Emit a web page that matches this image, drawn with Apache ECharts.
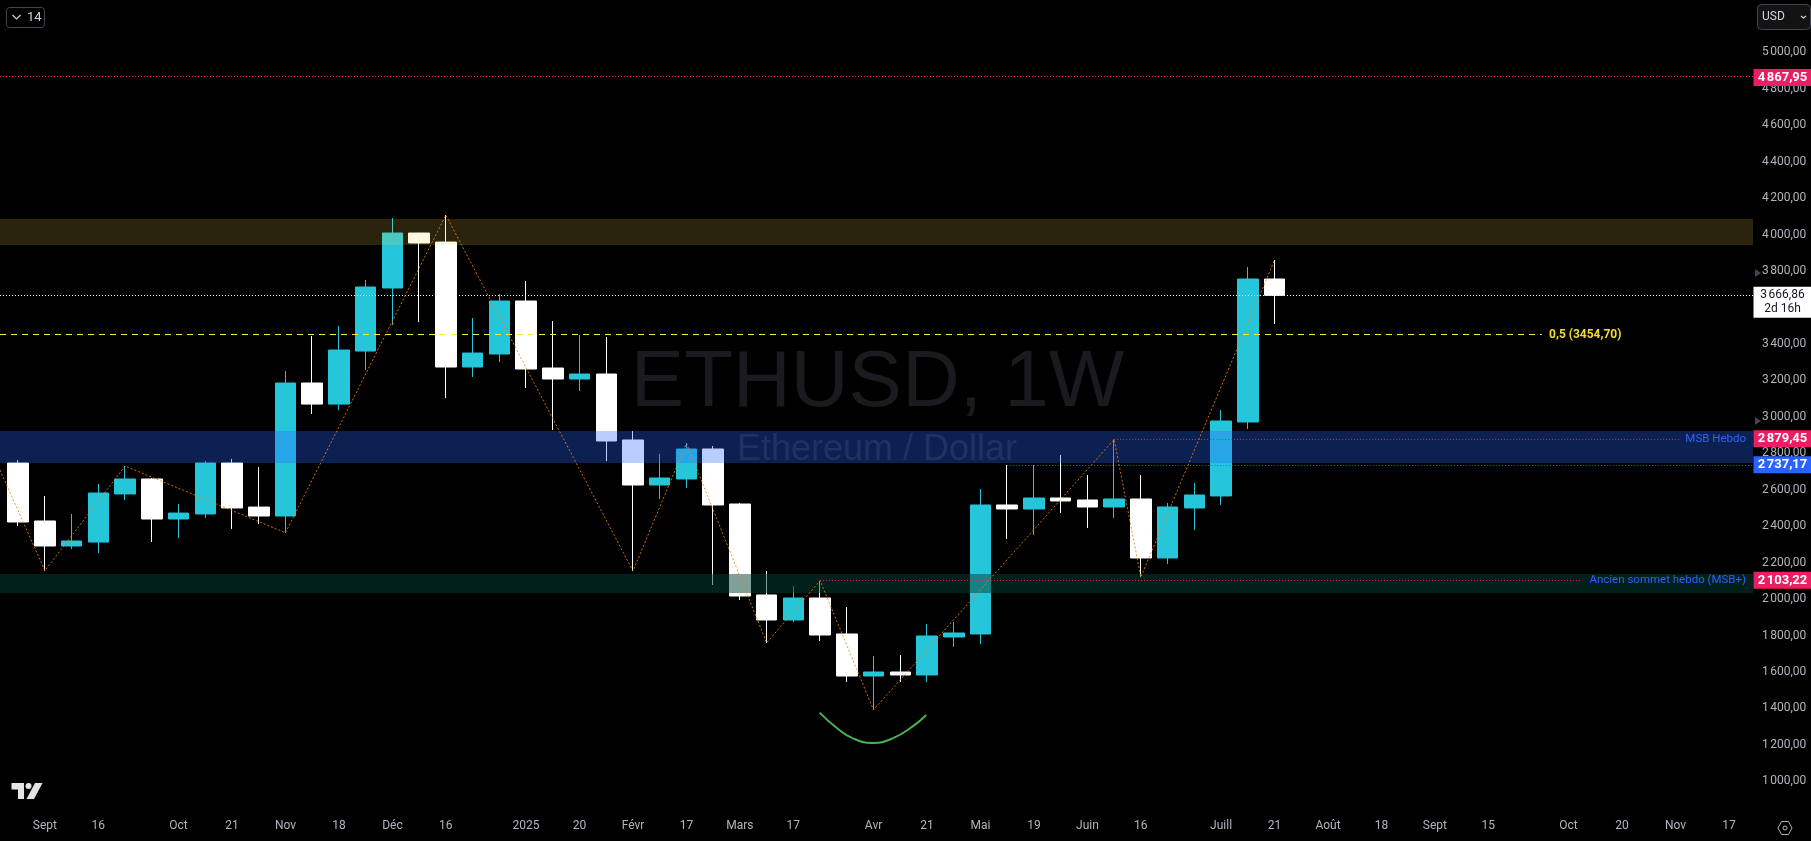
<!DOCTYPE html>
<html><head><meta charset="utf-8">
<style>html,body{margin:0;padding:0;background:#000}#c{width:1811px;height:841px}</style>
<script src="https://cdn.jsdelivr.net/npm/echarts@6/dist/echarts.min.js"></script>
</head><body><div id="c"></div>
<script>
// weekly candles, in chart order
const opens  = [2746.8,2428.6,2291.4,2313,2577,2659,2439.5,2467,2747,2505,2456,3185.6,3070,3361,3706.9,4008.6,3959,3273.4,3344.7,3635.5,3268,3207.6,3235,2873,2626,2659,2823.6,2521.8,2022.6,1885.4,2006,1808.6,1578,1600,1583.6,1792,1808.6,2516.4,2494.4,2554.8,2543.8,2505.4,2549.3,2225.6,2499.9,2565.8,2971.8,3756.3];
const closes = [2423,2291.4,2318.8,2582,2659,2439.5,2472,2747,2500,2456,3185.6,3070,3366.7,3712.4,4008.6,3953.8,3273.4,3350.2,3635.5,3262.5,3207.6,3235,2867.5,2626,2664.5,2823.6,2516.4,2017,1885.4,2006,1803,1578,1600,1583.6,1797.6,1814,2516.4,2494.4,2554.8,2538.3,2505.4,2549.3,2225.6,2505.4,2571.2,2977.2,3756.3,3666.86];
const lows   = [2401,2156,2275,2253,2544,2313,2335,2445,2385,2412,2362.7,3015.6,3037.6,3257,3503.9,3520,3103.4,3218.6,3300.9,3158.2,2927.8,3141.7,2757.7,2154,2549,2609.6,2077.4,1995,1759,1874.4,1770,1545,1391.8,1545,1545,1737.3,1753.7,2329.8,2351.8,2472.5,2390.2,2445,2121.3,2192.7,2379.2,2516.8,2933.3,3509.4];
const highs  = [2763,2565.7,2467,2632,2730,2664,2522,2758,2769,2725,3251.5,3443.5,3498.4,3750.8,4090.9,4010,4107.4,3542.3,3674,3745.3,3525.8,3449,3438,2922,2796,2856.5,2840,2527,2154,2072,2099,1956.7,1688,1693.4,1863.5,1874.4,2604,2735.8,2735.8,2790.7,2681,2876.6,2681,2527.3,2637,3037.5,3822,3860];

// time axis ticks: week index and its label
const timeTickIndex = [1,3,6,8,10,12,14,16,19,21,23,25,27,29,32,34,36,38,40,42,45,47,49,51,53,55,58,60,62,64];
const timeTickLabel = ['Sept','16','Oct','21','Nov','18','Déc','16','2025','20','Févr','17','Mars','17','Avr','21','Mai','19','Juin','16','Juill','21','Août','18','Sept','15','Oct','20','Nov','17'];

// orange zigzag pivots
const zigzagIndex = [-0.68,1,4,10,16,23,25,28,30,32,41,42,47];
const zigzagPrice = [2708,2156,2730,2364,4107,2154,2855,1760,2101,1392,2876,2121,3860];

// hand-drawn green arc under the April low
const arcIndex = [29.98,30.64,31.23,31.97,32.71,33.45,33.97];
const arcPrice = [1377,1291,1236,1211,1236,1300,1364];

// zones (top, bottom price)
const zoneSupply = [4085.5,3942.8];
const zoneMsb    = [2922.3,2746.8];
const zoneOld    = [2137.8,2033.6];

// levels
const levelTop = 4867.95, levelLast = 3666.86, levelFib = 3454.70, levelMsb = 2879.45, levelMsbLow = 2737.17, levelOld = 2103.22;

const XMIN = -0.68, XMAX = 64.9;
const PINK = '#e91e63', BLUE = '#2962ff', CYAN = '#26c6da', YEL = '#ffeb3b';
const DOT = [1, 2];

const fmt = v => {
  const p = Number(v).toFixed(2).split('.');
  return p[0].replace(/\B(?=(\d{3})+$)/g, '\u202f') + ',' + p[1];
};
const candleData = opens.map((o, i) => [i, o, closes[i], lows[i], highs[i]]);
const seg = (x0, x1, y, color, type) => [
  {coord: [x0, y], lineStyle: {color, type, width: 1}},
  {coord: [x1, y]}
];
const tag = (y, color, textColor, dy) => ({
  coord: [XMAX, y], symbol: 'rect', symbolSize: [58, 17], symbolOffset: [29.5, dy || 0],
  itemStyle: {color},
  label: {show: true, position: 'inside', formatter: fmt(y), color: textColor, fontSize: 13, fontWeight: 'bold', fontFamily: 'Roboto'}
});
const note = (x, y, text, color, align, font, size) => ({
  coord: [x, y], symbol: 'circle', symbolSize: 0.01,
  label: {show: true, position: 'inside', formatter: text, color, align, verticalAlign: 'middle', fontSize: size || 11.5, fontWeight: font || 'normal', fontFamily: 'Roboto'}
});
const marker = y => ({
  coord: [XMAX, y], symbol: 'triangle', symbolSize: [8, 6], symbolRotate: -90, symbolOffset: [5, 0],
  itemStyle: {color: '#434651'}, label: {show: false}
});

const chart = echarts.init(document.getElementById('c'), null, {renderer: 'canvas'});
chart.setOption({
  animation: false,
  backgroundColor: '#000000',
  grid: {left: 0, top: 15.9, width: 1753, height: 801.9, containLabel: false},
  xAxis: {
    type: 'value', min: XMIN, max: XMAX, splitLine: {show: false},
    axisLine: {show: false}, axisTick: {show: false},
    axisLabel: {
      customValues: timeTickIndex, margin: 2, color: '#b2b5be', fontSize: 12, fontFamily: 'Roboto',
      formatter: v => timeTickLabel[timeTickIndex.indexOf(v)]
    }
  },
  yAxis: {
    type: 'value', position: 'right', min: 800, max: 5200, interval: 200, scale: false,
    splitLine: {show: false}, axisLine: {show: false}, axisTick: {show: false},
    axisLabel: {
      margin: 9, color: '#b2b5be', fontSize: 12, fontFamily: 'Roboto',
      showMinLabel: false, showMaxLabel: false, formatter: fmt
    }
  },
  graphic: [
    {type: 'text', z: 0, style: {x: 877.5, y: 384, text: 'ETHUSD, 1W', font: '80px "Liberation Sans"', fill: '#1a1b1e', textAlign: 'center', textVerticalAlign: 'middle'}},
    {type: 'text', z: 0, style: {x: 877, y: 450, text: 'Ethereum / Dollar', font: '36px "Liberation Sans"', fill: '#1a1b1e', textAlign: 'center', textVerticalAlign: 'middle'}},
    {type: 'rect', z: 30, shape: {x: 6.5, y: 7.5, width: 38, height: 20, r: 3}, style: {fill: '#000', stroke: '#434651', lineWidth: 1}},
    {type: 'polyline', z: 31, shape: {points: [[12.5, 15], [16.5, 19], [20.5, 15]]}, style: {stroke: '#d1d4dc', fill: null, lineWidth: 1.2}},
    {type: 'text', z: 31, style: {x: 27, y: 17.5, text: '14', font: '13px Roboto', fill: '#d1d4dc', textVerticalAlign: 'middle'}},
    {type: 'rect', z: 30, shape: {x: 1757.5, y: 4.5, width: 53, height: 25, r: 4}, style: {fill: '#131313', stroke: '#434651', lineWidth: 1}},
    {type: 'text', z: 31, style: {x: 1762, y: 17, text: 'USD', font: '12px Roboto', fill: '#d1d4dc', textVerticalAlign: 'middle'}},
    {type: 'polyline', z: 31, shape: {points: [[1801, 16], [1803.5, 18], [1806, 16]]}, style: {stroke: '#d1d4dc', fill: null, lineWidth: 1.1}},
    {type: 'polygon', z: 30, shape: {points: [[11.5, 783], [24, 783], [24, 799], [18, 799], [18, 789.5], [11.5, 789.5]]}, style: {fill: '#e4e4e6'}},
    {type: 'polygon', z: 30, shape: {points: [[35, 783], [42.5, 783], [34, 799], [26.5, 799]]}, style: {fill: '#e4e4e6'}},
    {type: 'circle', z: 30, shape: {cx: 28.5, cy: 786, r: 3}, style: {fill: '#e4e4e6'}},
    {type: 'polygon', z: 30, shape: {points: [[1778, 828], [1781.5, 821.5], [1788.5, 821.5], [1792, 828], [1788.5, 834.5], [1781.5, 834.5]]}, style: {fill: null, stroke: '#b2b5be', lineWidth: 1}},
    {type: 'circle', z: 30, shape: {cx: 1785, cy: 828, r: 2}, style: {fill: null, stroke: '#b2b5be', lineWidth: 1}}
  ],
  series: [
    {
      type: 'candlestick', name: 'ETHUSD', z: 2, barWidth: 21, encode: {x: 0, y: [1, 2, 3, 4]},
      data: candleData, silent: true,
      itemStyle: {color: CYAN, color0: '#ffffff', borderColor: CYAN, borderColor0: '#ffffff', borderWidth: 1}
    },
    {
      type: 'line', name: 'zones', z: 5, data: [], silent: true,
      markArea: {
        z: 5, silent: true,
        data: [
          [{yAxis: zoneSupply[0], itemStyle: {color: 'rgba(255,212,76,0.17)'}}, {yAxis: zoneSupply[1]}],
          [{yAxis: zoneMsb[0], itemStyle: {color: 'rgba(41,98,255,0.32)'}}, {yAxis: zoneMsb[1]}],
          [{yAxis: zoneOld[0], itemStyle: {color: 'rgba(0,64,50,0.5)'}}, {yAxis: zoneOld[1]}]
        ]
      }
    },
    {
      type: 'line', name: 'levels', z: 6, data: [], silent: true,
      markLine: {
        z: 6, silent: true, symbol: 'none', label: {show: false},
        data: [
          seg(XMIN, XMAX, levelTop, PINK, DOT),
          seg(XMIN, XMAX, levelLast, '#ffffff', DOT),
          seg(XMIN, 57, levelFib, YEL, [6, 5]),
          seg(41, 62.2, levelMsb, PINK, DOT),
          seg(37, XMAX, levelMsbLow, BLUE, DOT),
          seg(30, 58.5, levelOld, PINK, DOT)
        ]
      }
    },
    {
      type: 'line', name: 'zigzag', z: 7, silent: true, showSymbol: false,
      data: zigzagIndex.map((x, i) => [x, zigzagPrice[i]]),
      lineStyle: {color: 'rgba(245,130,0,0.85)', width: 1, type: [2, 2]}
    },
    {
      type: 'line', name: 'arc', z: 8, silent: true, showSymbol: false, smooth: true,
      data: arcIndex.map((x, i) => [x, arcPrice[i]]),
      lineStyle: {color: '#4caf50', width: 2}
    },
    {
      type: 'line', name: 'tags', z: 20, data: [], silent: true,
      markPoint: {
        z: 20, silent: true,
        data: [
          marker(3789), marker(2977),
          tag(levelTop, PINK, '#fff', 1), tag(levelMsb, PINK, '#fff'),
          tag(levelMsbLow, BLUE, '#fff'), tag(levelOld, PINK, '#fff'),
          {
            coord: [XMAX, levelLast], symbol: 'rect', symbolSize: [58, 31], symbolOffset: [29.5, 7],
            itemStyle: {color: '#ffffff'},
            label: {show: true, position: 'inside', formatter: fmt(levelLast) + '\n2d 16h', color: '#131722', fontSize: 12, lineHeight: 14, align: 'center', fontFamily: 'Roboto'}
          },
          note(57.27, levelFib - 4, '0,5 (3454,70)', '#f2dc30', 'left', 'bold', 12),
          note(64.64, levelMsb, 'MSB Hebdo', BLUE, 'right'),
          note(64.64, levelOld, 'Ancien sommet hebdo (MSB+)', BLUE, 'right')
        ]
      }
    }
  ]
});
</script></body></html>
